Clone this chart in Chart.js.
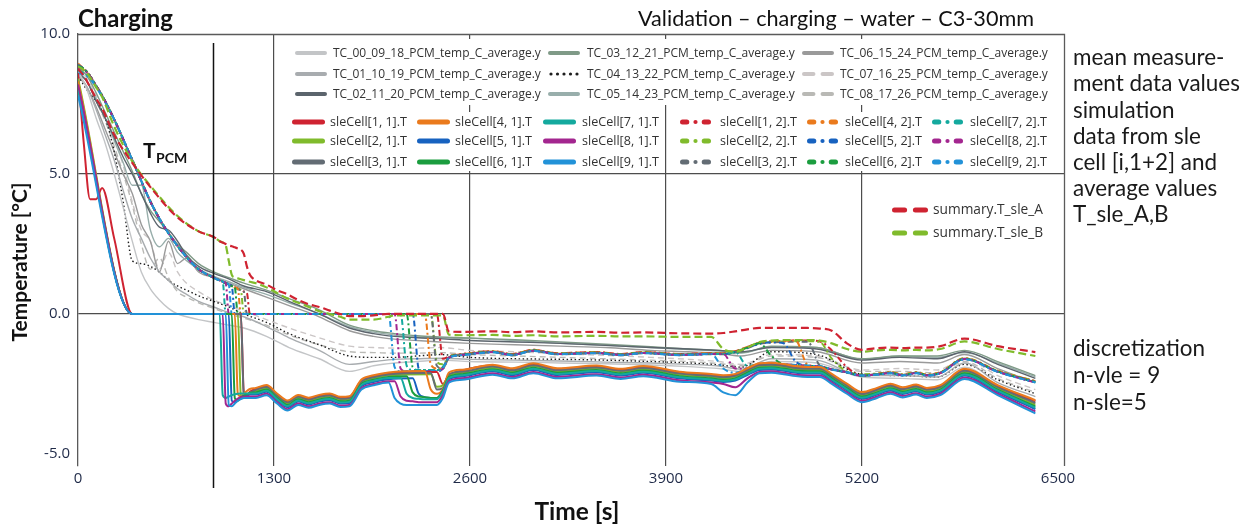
<!DOCTYPE html>
<html>
<head>
<meta charset="utf-8">
<script src="https://cdn.jsdelivr.net/npm/chart.js@4.4.1/dist/chart.umd.min.js"></script>
<style>
html,body{margin:0;padding:0;background:#ffffff;overflow:hidden;}
#wrap{position:relative;width:1252px;height:526px;}
canvas{display:block;}
</style>
</head>
<body>
<div id="wrap"><canvas id="chart" width="1252" height="526"></canvas></div>
<script>
const _ = null;

// ---- axes ----
const X_TICKS = [0, 1300, 2600, 3900, 5200, 6500];
const Y_TICKS = [-5, 0, 5, 10];
const X_GRID = [1300, 2600, 3900, 5200];
const Y_GRID = [0, 5];
const T_PCM_TIME = 895;

// ---- labels ----
const TC_LABELS = [
  'TC_00_09_18_PCM_temp_C_average.y', 'TC_01_10_19_PCM_temp_C_average.y', 'TC_02_11_20_PCM_temp_C_average.y',
  'TC_03_12_21_PCM_temp_C_average.y', 'TC_04_13_22_PCM_temp_C_average.y', 'TC_05_14_23_PCM_temp_C_average.y',
  'TC_06_15_24_PCM_temp_C_average.y', 'TC_07_16_25_PCM_temp_C_average.y', 'TC_08_17_26_PCM_temp_C_average.y'];
const CELL1_LABELS = ['sleCell[1, 1].T','sleCell[2, 1].T','sleCell[3, 1].T','sleCell[4, 1].T','sleCell[5, 1].T','sleCell[6, 1].T','sleCell[7, 1].T','sleCell[8, 1].T','sleCell[9, 1].T'];
const CELL2_LABELS = ['sleCell[1, 2].T','sleCell[2, 2].T','sleCell[3, 2].T','sleCell[4, 2].T','sleCell[5, 2].T','sleCell[6, 2].T','sleCell[7, 2].T','sleCell[8, 2].T','sleCell[9, 2].T'];
const SUM_LABELS = ['summary.T_sle_A', 'summary.T_sle_B'];

// ---- simulation time grid [s] ----
const CELL_T = [0,40,80,120,160,240,360,500,650,800,
  900,940,960,980,1000,1020,1040,1060,1080,1100,
  1120,1140,1180,1250,1320,1390,1460,1530,1600,1670,
  1740,1800,1880,1960,2060,2100,2140,2180,2220,2260,
  2300,2340,2380,2420,2460,2550,2750,2880,3020,3180,
  3440,3600,3750,3990,4200,4280,4360,4440,4520,4600,
  4680,4760,4840,4920,5000,5100,5200,5300,5390,5470,
  5560,5630,5720,5880,6100,6350];

// ---- summary.T_sle_A / B [°C] ----
const SUM_A = [8.75,8.5,8.1,7.7,7.35,6.4,5.4,4.4,3.5,2.95,
  2.75,2.6,2.55,2.5,2.45,2.42,2.38,2.34,2.3,2.15,
  1.7,1.4,1.2,1.05,0.85,0.7,0.5,0.35,0.25,0.12,
  0.0,-0.08,-0.08,-0.05,0.0,0.0,0.0,0.0,0.0,0.0,
  0.0,0.0,0.0,0.0,-0.62,-0.64,-0.62,-0.65,-0.62,-0.66,
  -0.64,-0.67,-0.66,-0.69,-0.7,-0.68,-0.62,-0.55,-0.5,-0.5,
  -0.5,-0.5,-0.5,-0.52,-0.6,-1.05,-1.28,-1.22,-1.2,-1.22,
  -1.2,-1.2,-1.15,-0.88,-1.15,-1.36];
const SUM_B = [8.85,8.7,8.45,8.1,7.75,6.7,5.45,4.45,3.55,2.95,
  2.75,2.6,2.55,2.45,1.9,1.4,1.3,1.27,1.24,1.21,
  1.18,1.15,1.1,0.95,0.75,0.55,0.4,0.25,0.1,0.0,
  -0.1,-0.2,-0.2,-0.2,-0.1,-0.05,-0.05,-0.05,-0.05,-0.05,
  -0.05,-0.05,-0.05,-0.05,-0.74,-0.76,-0.75,-0.78,-0.76,-0.8,
  -0.78,-0.8,-0.8,-0.82,-0.82,-1.25,-1.35,-1.2,-1.0,-0.95,
  -0.93,-0.93,-0.93,-0.95,-1.05,-1.25,-1.35,-1.3,-1.28,-1.3,
  -1.28,-1.3,-1.25,-0.98,-1.25,-1.5];

// ---- sleCell[i,1].T [°C] ----
const S1 = [8.6,6.0,4.1,4.1,4.5,2.7,0,_,_,_,
  _,_,_,_,_,_,_,_,0,-2.8,
  -2.9,-2.78,-2.67,-2.57,-2.87,-3.12,-2.92,-3.02,-2.92,-2.87,
  -2.99,-2.97,-2.37,-2.22,-2.12,_,_,_,_,_,
  _,_,-2.07,-2.5,-2.2,-2.02,-1.84,-1.97,-1.79,-1.97,
  -1.87,-1.99,-1.89,-2.09,-2.17,-2.22,-2.17,-1.97,-1.79,-1.77,
  -1.82,-1.89,-1.92,-1.92,-2.17,-2.52,-2.82,-2.67,-2.52,-2.65,
  -2.55,-2.67,-2.57,-1.99,-2.57,-3.12];
const S2 = [8.4,_,_,_,_,_,0,_,_,_,
  _,_,_,_,_,_,_,0,-2.9,-3.0,
  -2.9,-2.82,-2.75,-2.65,-2.95,-3.2,-3.0,-3.1,-3.0,-2.95,
  -3.07,-3.05,-2.45,-2.3,-2.2,_,_,_,_,_,
  _,-2.15,-2.6,-2.55,-2.2,-2.1,-1.92,-2.05,-1.87,-2.05,
  -1.95,-2.07,-1.97,-2.17,-2.25,-2.3,-2.25,-2.05,-1.87,-1.85,
  -1.9,-1.97,-2.0,-2.0,-2.25,-2.6,-2.9,-2.75,-2.6,-2.73,
  -2.63,-2.75,-2.65,-2.07,-2.65,-3.24];
const S3 = [8.2,_,_,_,_,_,0,_,_,_,
  _,_,_,_,_,_,_,_,0,-2.9,
  -2.95,-2.82,-2.71,-2.61,-2.91,-3.16,-2.96,-3.06,-2.96,-2.91,
  -3.03,-3.01,-2.41,-2.26,-2.16,_,_,_,_,_,
  _,-2.11,-2.7,-2.65,-2.16,-2.06,-1.88,-2.01,-1.83,-2.01,
  -1.91,-2.03,-1.93,-2.13,-2.21,-2.26,-2.21,-2.01,-1.83,-1.81,
  -1.86,-1.93,-1.96,-1.96,-2.21,-2.56,-2.86,-2.71,-2.56,-2.69,
  -2.59,-2.71,-2.61,-2.03,-2.61,-3.18];
const S4 = [8.3,_,_,_,_,_,0,_,_,_,
  _,_,_,_,_,_,0,-2.85,-2.95,-2.85,
  -2.75,-2.68,-2.64,-2.54,-2.84,-3.09,-2.89,-2.99,-2.89,-2.84,
  -2.96,-2.94,-2.34,-2.19,-2.09,_,_,_,_,_,
  -2.04,-2.7,-2.85,-2.7,-2.09,-1.99,-1.81,-1.94,-1.76,-1.94,
  -1.84,-1.96,-1.86,-2.06,-2.14,-2.19,-2.14,-1.94,-1.76,-1.74,
  -1.79,-1.86,-1.89,-1.89,-2.14,-2.49,-2.79,-2.64,-2.49,-2.62,
  -2.52,-2.64,-2.54,-1.96,-2.54,-3.08];
const S5 = [8.1,_,_,_,_,_,0,_,_,_,
  _,_,_,_,0,-3.1,-3.15,-3.05,-2.97,-2.92,
  -2.9,-2.88,-2.88,-2.78,-3.08,-3.33,-3.13,-3.23,-3.13,-3.08,
  -3.2,-3.18,-2.58,-2.43,-2.33,_,_,_,-2.3,-2.85,
  -2.97,-3.0,-3.0,-2.75,-2.33,-2.23,-2.05,-2.18,-2.0,-2.18,
  -2.08,-2.2,-2.1,-2.3,-2.38,-2.43,-2.38,-2.18,-2.0,-1.98,
  -2.03,-2.1,-2.13,-2.13,-2.38,-2.73,-3.03,-2.88,-2.73,-2.86,
  -2.76,-2.88,-2.78,-2.2,-2.78,-3.4];
const S6 = [8.1,_,_,_,_,_,0,_,_,_,
  _,_,_,_,_,0,-3.0,-3.1,-3.0,-2.92,
  -2.86,-2.82,-2.8,-2.7,-3.0,-3.25,-3.05,-3.15,-3.05,-3.0,
  -3.12,-3.1,-2.5,-2.35,-2.25,_,_,-2.22,-2.8,-2.95,
  -2.97,-3.0,-3.0,-2.75,-2.25,-2.15,-1.97,-2.1,-1.92,-2.1,
  -2.0,-2.12,-2.02,-2.22,-2.3,-2.35,-2.3,-2.1,-1.92,-1.9,
  -1.95,-2.02,-2.05,-2.05,-2.3,-2.65,-2.95,-2.8,-2.65,-2.78,
  -2.68,-2.8,-2.7,-2.12,-2.7,-3.3];
const S7 = [8.0,_,_,_,_,_,0,_,_,_,
  _,0,-2.9,-3.0,-2.95,-2.9,-2.87,-2.85,-2.84,-2.84,
  -2.84,-2.84,-2.84,-2.74,-3.04,-3.29,-3.09,-3.19,-3.09,-3.04,
  -3.16,-3.14,-2.54,-2.39,-2.29,_,-2.29,-2.85,-3.0,-3.03,
  -3.05,-3.05,-3.05,-2.8,-2.29,-2.19,-2.01,-2.14,-1.96,-2.14,
  -2.04,-2.16,-2.06,-2.26,-2.34,-2.39,-2.34,-2.14,-1.96,-1.94,
  -1.99,-2.06,-2.09,-2.09,-2.34,-2.69,-2.99,-2.84,-2.69,-2.82,
  -2.72,-2.84,-2.74,-2.16,-2.74,-3.35];
const S8 = [8.2,_,_,_,_,_,0,_,_,_,
  _,_,0,-3.2,-3.3,-3.2,-3.1,-3.02,-2.98,-2.96,
  -2.95,-2.95,-2.95,-2.85,-3.15,-3.4,-3.2,-3.3,-3.2,-3.15,
  -3.27,-3.25,-2.65,-2.5,-2.4,-2.4,-2.95,-3.1,-3.12,-3.15,
  -3.15,-3.15,-3.15,-2.9,-2.4,-2.3,-2.12,-2.25,-2.07,-2.25,
  -2.15,-2.27,-2.17,-2.37,-2.45,-2.5,-2.62,-2.3,-2.07,-2.05,
  -2.1,-2.17,-2.2,-2.2,-2.45,-2.8,-3.1,-2.95,-2.8,-2.93,
  -2.83,-2.95,-2.85,-2.27,-2.85,-3.48];
const S9 = [7.8,_,_,_,_,_,0,_,_,_,
  _,_,_,0,-3.25,-3.3,-3.2,-3.1,-3.04,-3.0,
  -3.0,-3.0,-3.0,-2.9,-3.2,-3.45,-3.25,-3.35,-3.25,-3.2,
  -3.32,-3.3,-2.7,-2.55,-2.45,-3.0,-3.2,-3.25,-3.25,-3.25,
  -3.25,-3.25,-3.25,-3.0,-2.45,-2.35,-2.17,-2.3,-2.12,-2.3,
  -2.2,-2.32,-2.22,-2.42,-2.5,-2.8,-2.9,-2.45,-2.12,-2.1,
  -2.15,-2.22,-2.25,-2.25,-2.5,-2.85,-3.15,-3.0,-2.85,-2.98,
  -2.88,-3.0,-2.9,-2.32,-2.9,-3.55];

// ---- sleCell[i,2].T [°C] ----
const D1 = [8.9,8.75,8.5,8.15,7.8,6.95,5.5,3.8,2.5,1.6,
  1.3,1.2,1.15,1.1,1.05,1.0,0.95,0.9,0.85,0.8,
  0.75,0,_,_,_,_,_,_,_,_,
  _,_,_,_,_,_,_,_,_,_,
  _,_,0,-1.6,-1.52,-1.43,-1.33,-1.43,-1.28,-1.4,
  -1.36,-1.43,-1.36,-1.43,-1.4,-1.4,-1.33,-1.18,-1.03,-0.98,
  -0.96,-0.95,-0.95,-0.98,-1.3,-1.9,-2.2,-2.15,-2.1,-2.18,
  -2.1,-2.18,-2.1,-1.6,-2.05,-2.4];
const D2 = [8.8,8.75,8.5,8.15,7.8,6.95,5.5,3.8,2.5,1.6,
  1.3,1.2,1.15,1.1,1.05,1.0,0.95,0.9,0.85,0,
  _,_,_,_,_,_,_,_,_,_,
  _,_,_,_,_,_,_,_,_,_,
  _,0,-1.7,-1.8,-1.55,-1.45,-1.35,-1.45,-1.3,-1.42,
  -1.38,-1.45,-1.38,-1.45,-1.42,-1.42,-1.35,-1.2,-1.05,-1.0,
  -0.98,-0.97,-0.97,-1.0,-1.6,-2.05,-2.15,-2.13,-2.08,-2.16,
  -2.08,-2.16,-2.08,-1.58,-2.03,-2.4];
const D3 = [8.85,8.75,8.5,8.15,7.8,6.95,5.5,3.8,2.5,1.6,
  1.3,1.2,1.15,1.1,1.05,1.0,0.95,0.9,0.85,0.8,
  0,_,_,_,_,_,_,_,_,_,
  _,_,_,_,_,_,_,_,_,_,
  _,0,-1.85,-1.95,-1.57,-1.47,-1.37,-1.47,-1.32,-1.44,
  -1.4,-1.47,-1.4,-1.47,-1.44,-1.44,-1.37,-1.22,-1.07,-1.02,
  -1.0,-0.99,-0.99,-1.85,-1.98,-2.08,-2.2,-2.15,-2.1,-2.18,
  -2.1,-2.18,-2.1,-1.6,-2.05,-2.44];
const D4 = [8.95,8.75,8.5,8.15,7.8,6.95,5.5,3.8,2.5,1.6,
  1.3,1.2,1.15,1.1,1.05,1.0,0.95,0.9,0,_,
  _,_,_,_,_,_,_,_,_,_,
  _,_,_,_,_,_,_,_,_,_,
  0,-1.8,-1.95,-1.95,-1.53,-1.43,-1.33,-1.43,-1.28,-1.4,
  -1.36,-1.43,-1.36,-1.43,-1.4,-1.4,-1.33,-1.18,-1.03,-0.98,
  -0.96,-0.95,-1.82,-1.87,-1.98,-2.08,-2.2,-2.13,-2.08,-2.16,
  -2.08,-2.16,-2.08,-1.58,-2.03,-2.41];
const D5 = [8.9,8.75,8.5,8.15,7.8,6.95,5.5,3.8,2.5,1.6,
  1.3,1.2,1.15,1.1,1.05,1.0,0,_,_,_,
  _,_,_,_,_,_,_,_,_,_,
  _,_,_,_,_,_,_,_,0,-1.95,
  -2.05,-2.05,-2.05,-1.95,-1.56,-1.46,-1.36,-1.46,-1.31,-1.43,
  -1.39,-1.46,-1.39,-1.46,-1.43,-1.43,-1.36,-1.21,-1.06,-1.01,
  -1.05,-1.7,-1.85,-1.88,-1.99,-2.09,-2.21,-2.16,-2.11,-2.19,
  -2.11,-2.19,-2.11,-1.61,-2.06,-2.44];
const D6 = [8.85,8.75,8.5,8.15,7.8,6.95,5.5,3.8,2.5,1.6,
  1.3,1.2,1.15,1.1,1.05,1.0,0.95,0,_,_,
  _,_,_,_,_,_,_,_,_,_,
  _,_,_,_,_,_,_,0,-1.9,-2.0,
  -2.0,-2.0,-2.0,-1.9,-1.55,-1.45,-1.35,-1.45,-1.3,-1.42,
  -1.38,-1.45,-1.38,-1.45,-1.42,-1.42,-1.35,-1.2,-1.05,-1.5,
  -1.8,-1.82,-1.85,-1.87,-1.98,-2.08,-2.2,-2.15,-2.1,-2.18,
  -2.1,-2.18,-2.1,-1.6,-2.05,-2.43];
const D7 = [8.7,8.6,8.45,8.15,7.8,6.95,5.5,3.8,2.5,1.6,
  1.3,1.2,1.15,0,_,_,_,_,_,_,
  _,_,_,_,_,_,_,_,_,_,
  _,_,_,_,_,_,0,-1.85,-2.0,-2.0,
  -2.0,-2.0,-2.0,-1.9,-1.56,-1.46,-1.36,-1.46,-1.31,-1.43,
  -1.39,-1.46,-1.39,-1.46,-1.43,-1.43,-1.36,-1.85,-1.8,-1.78,
  -1.8,-1.82,-1.85,-1.87,-1.98,-2.08,-2.2,-2.16,-2.11,-2.19,
  -2.11,-2.19,-2.11,-1.61,-2.06,-2.44];
const D8 = [8.8,8.7,8.5,8.15,7.8,6.95,5.5,3.8,2.5,1.6,
  1.3,1.2,1.15,1.1,0,_,_,_,_,_,
  _,_,_,_,_,_,_,_,_,_,
  _,_,_,_,_,0,-1.95,-2.05,-2.05,-2.05,
  -2.05,-2.05,-2.05,-1.95,-1.56,-1.46,-1.36,-1.46,-1.31,-1.43,
  -1.39,-1.46,-1.39,-1.46,-1.43,-1.43,-1.95,-1.95,-1.8,-1.78,
  -1.8,-1.82,-1.85,-1.87,-1.98,-2.08,-2.2,-2.16,-2.11,-2.19,
  -2.11,-2.19,-2.11,-1.61,-2.06,-2.45];
const D9 = [8.6,8.55,8.4,8.1,7.75,6.95,5.5,3.8,2.5,1.6,
  1.3,1.2,1.15,1.1,1.05,0,_,_,_,_,
  _,_,_,_,_,_,_,_,_,_,
  _,_,_,_,0,-1.9,-2.05,-2.05,-2.05,-2.05,
  -2.05,-2.05,-2.05,-1.95,-1.57,-1.47,-1.37,-1.47,-1.32,-1.44,
  -1.4,-1.47,-1.4,-1.47,-1.43,-1.95,-2.1,-1.95,-1.8,-1.78,
  -1.8,-1.82,-1.85,-1.87,-1.98,-2.08,-2.2,-2.17,-2.12,-2.2,
  -2.12,-2.2,-2.12,-1.62,-2.07,-2.45];

// ---- measurement time grid [s] and TC averages [°C] ----
const TC_T = [0,60,120,180,240,300,360,420,480,540,
  600,660,720,800,900,1000,1100,1250,1400,1600,
  1800,1960,2100,2250,2400,2600,2900,3200,3500,3800,
  4050,4250,4400,4600,4900,5200,5450,5700,5880,6100,
  6350];
const TC00 = [8.7,8.0,7.0,6.1,5.0,3.8,2.6,1.5,0.9,0.5,
  0.2,0.0,-0.1,-0.2,-0.3,-0.4,-0.5,-0.8,-1.2,-1.6,
  -2.05,-1.85,-1.75,-1.7,-1.65,-1.7,-1.72,-1.75,-1.78,-1.82,
  -1.88,-1.95,-2.05,-1.7,-1.75,-2.25,-2.3,-2.35,-1.9,-2.55,
  -3.1];
const TC01 = [8.6,8.1,7.3,6.4,5.5,4.4,3.4,2.7,2.0,1.5,
  1.2,0.9,0.7,0.45,0.25,0.05,-0.1,-0.45,-0.85,-1.3,
  -1.8,-1.7,-1.62,-1.6,-1.58,-1.62,-1.65,-1.68,-1.72,-1.75,
  -1.8,-1.86,-1.97,-1.6,-1.65,-2.2,-2.2,-2.25,-1.75,-2.45,
  -2.95];
const TC02 = [8.6,8.3,7.6,7.0,6.3,5.6,5.0,4.3,3.6,3.1,
  3.0,2.6,2.1,1.7,1.45,1.25,1.0,0.8,0.45,0.0,
  -0.5,-0.7,-0.8,-0.85,-0.88,-0.95,-1.0,-1.05,-1.12,-1.2,
  -1.25,-1.3,-1.35,-1.2,-1.25,-1.65,-1.55,-1.6,-1.35,-1.8,
  -2.3];
const TC03 = [8.8,8.5,7.9,7.2,6.5,5.8,5.1,4.3,3.7,3.3,
  2.9,2.5,2.2,1.8,1.5,1.3,1.1,0.85,0.55,0.15,
  -0.4,-0.6,-0.7,-0.78,-0.82,-0.86,-0.92,-1.0,-1.08,-1.17,
  -1.25,-1.3,-1.38,-1.15,-1.2,-1.6,-1.5,-1.5,-1.3,-1.7,
  -2.2];
const TC04 = [8.5,8.0,7.6,7.0,5.8,4.0,1.9,1.8,1.7,1.5,
  1.2,1.0,0.85,0.65,0.45,0.25,0.0,-0.3,-0.7,-1.1,
  -1.5,-1.55,-1.55,-1.5,-1.45,-1.55,-1.6,-1.62,-1.65,-1.7,
  -1.75,-1.82,-1.9,-1.35,-1.45,-2.15,-2.2,-2.25,-1.8,-2.35,
  -2.85];
const TC05 = [8.7,8.3,7.7,7.0,6.2,5.4,4.6,4.6,3.0,2.4,
  2.7,2.2,1.9,1.6,1.35,1.15,0.95,0.7,0.4,0.0,
  -0.45,-0.65,-0.75,-0.82,-0.85,-0.87,-0.95,-1.05,-1.12,-1.2,
  -1.27,-1.32,-1.4,-1.17,-1.2,-1.62,-1.5,-1.55,-1.38,-1.75,
  -2.25];
const TC06 = [8.5,8.1,7.4,6.6,5.8,5.0,4.3,3.2,2.6,1.5,
  2.6,1.8,2.0,1.5,1.3,1.1,0.9,0.6,0.3,-0.1,
  -0.6,-0.8,-0.9,-0.95,-1.0,-1.05,-1.1,-1.15,-1.2,-1.3,
  -1.35,-1.4,-1.5,-1.3,-1.35,-1.75,-1.7,-1.75,-1.45,-1.95,
  -2.45];
const TC07 = [8.8,8.4,7.8,7.1,6.3,5.3,4.0,3.0,2.6,1.6,
  2.2,1.5,1.1,0.8,0.5,0.3,0.1,-0.2,-0.5,-0.85,
  -1.15,-1.2,-1.22,-1.22,-1.2,-1.3,-1.35,-1.42,-1.48,-1.55,
  -1.62,-1.7,-1.8,-1.45,-1.5,-2.0,-1.95,-2.0,-1.6,-2.2,
  -2.7];
const TC08 = [8.7,8.3,7.6,6.9,6.0,5.0,3.9,2.5,1.6,2.0,
  1.3,0.8,0.6,0.4,0.2,0.0,-0.15,-0.4,-0.75,-1.1,
  -1.35,-1.38,-1.4,-1.4,-1.38,-1.45,-1.5,-1.55,-1.6,-1.65,
  -1.7,-1.77,-1.85,-1.5,-1.55,-2.05,-2.05,-2.1,-1.7,-2.3,
  -2.8];

// ================= styling =================
const FONT = "'Open Sans', 'Noto Sans', 'DejaVu Sans', sans-serif";
const FONT2 = "Lato, 'Open Sans', sans-serif";
const CELL_COLORS = ['#cf2331','#80bb2c','#636c74','#ea7a1d','#1762c0','#1b9d3f','#14a99e','#a3268f','#2292d8'];
const SUM_COLORS = ['#cf2331','#80bb2c'];
const TC_STYLES = [
  {c:'#c3c5c7', d:[],        k:'solid'},
  {c:'#a8acaf', d:[],        k:'solid'},
  {c:'#5b646c', d:[],        k:'solid'},
  {c:'#7f9a87', d:[],        k:'solid'},
  {c:'#1e1e1e', d:[1.5,2.5], k:'dots'},
  {c:'#98aeab', d:[],        k:'solid'},
  {c:'#9a9a9a', d:[],        k:'solid'},
  {c:'#cbc6c6', d:[6,4],     k:'dash2'},
  {c:'#b9b9b5', d:[6,4],     k:'dash2'}
];
const TC_SERIES = [TC00,TC01,TC02,TC03,TC04,TC05,TC06,TC07,TC08];
const S_SERIES = [S1,S2,S3,S4,S5,S6,S7,S8,S9];
const D_SERIES = [D1,D2,D3,D4,D5,D6,D7,D8,D9];

const pts = (T, V) => T.map((t, i) => ({x: t, y: V[i]}));

// dataset index 0 is drawn on top
const datasets = [];
SUM_LABELS.forEach((lab, i) => datasets.push({
  label: lab, data: pts(CELL_T, [SUM_A, SUM_B][i]), borderColor: SUM_COLORS[i],
  borderWidth: 2.2, borderDash: [8, 4]
}));
for (let i = 8; i >= 0; i--) datasets.push({
  label: CELL1_LABELS[i], data: pts(CELL_T, S_SERIES[i]), borderColor: CELL_COLORS[i], borderWidth: 2
});
for (let i = 8; i >= 0; i--) datasets.push({
  label: CELL2_LABELS[i], data: pts(CELL_T, D_SERIES[i]), borderColor: CELL_COLORS[i], borderWidth: 2,
  borderDash: [6, 3, 2, 3]
});
TC_SERIES.forEach((v, i) => datasets.push({
  label: TC_LABELS[i], data: pts(TC_T, v), borderColor: TC_STYLES[i].c,
  borderWidth: 1.4, borderDash: TC_STYLES[i].d
}));

function fitFont(ctx, text, weight, target, fam) {
  const f = fam || FONT;
  ctx.font = `${weight} 100px ${f}`;
  const w = ctx.measureText(text).width;
  return `${weight} ${(100 * target / w).toFixed(2)}px ${f}`;
}

function drawSample(ctx, kind, x, len, y, color, lw) {
  ctx.save();
  ctx.strokeStyle = color; ctx.fillStyle = color; ctx.lineWidth = lw; ctx.lineCap = 'round';
  ctx.setLineDash([]);
  const r = lw / 2;
  const seg = (a, b) => { ctx.beginPath(); ctx.moveTo(a + r, y); ctx.lineTo(b - r, y); ctx.stroke(); };
  if (kind === 'solid') seg(x, x + len);
  else if (kind === 'dash2') { seg(x, x + len * 0.42); seg(x + len * 0.58, x + len); }
  else if (kind === 'dashdot') {
    seg(x, x + len * 0.3); seg(x + len * 0.7, x + len);
    ctx.beginPath(); ctx.arc(x + len / 2, y, lw * 0.42, 0, Math.PI * 2); ctx.fill();
  } else if (kind === 'dots') {
    for (let k = 0; k < 5; k++) { ctx.beginPath(); ctx.arc(x + 3 + k * (len - 6) / 4, y, 1.6, 0, Math.PI * 2); ctx.fill(); }
  }
  ctx.restore();
}

const deco = {
  id: 'deco',
  afterDraw(chart) {
    const ctx = chart.ctx, a = chart.chartArea, xs = chart.scales.x;
    ctx.save();
    // frame (top + right)
    ctx.strokeStyle = '#5a5a5a'; ctx.lineWidth = 1.3; ctx.setLineDash([]);
    ctx.beginPath(); ctx.moveTo(a.left, a.top + 0.5); ctx.lineTo(a.right + 0.5, a.top + 0.5); ctx.lineTo(a.right + 0.5, a.bottom); ctx.stroke();
    // T_PCM marker
    const xp = Math.round(xs.getPixelForValue(T_PCM_TIME)) + 0.5;
    ctx.strokeStyle = '#111'; ctx.lineWidth = 1.5;
    ctx.beginPath(); ctx.moveTo(xp, 43); ctx.lineTo(xp, 488); ctx.stroke();

    // legend backgrounds
    ctx.fillStyle = '#ffffff';
    ctx.fillRect(287, 39, 768, 66);
    ctx.fillRect(285, 112, 378, 59);
    ctx.fillRect(674, 112, 381, 59);
    ctx.fillRect(884, 197, 171, 48);

    ctx.fillStyle = '#333333'; ctx.textBaseline = 'middle'; ctx.textAlign = 'left';
    // TC legend
    const tcFont = fitFont(ctx, TC_LABELS[0], 400, 208);
    const tcSX = [295, 548, 802], tcTX = [333, 587, 840], tcY = [53, 74, 94];
    TC_LABELS.forEach((lab, i) => {
      const c = Math.floor(i / 3), r = i % 3;
      drawSample(ctx, TC_STYLES[i].k, tcSX[c], 32, tcY[r], TC_STYLES[i].c, 4);
      ctx.font = tcFont; ctx.fillStyle = '#333'; ctx.fillText(lab, tcTX[c], tcY[r] + 0.5);
    });
    // sleCell legends
    const cFont = fitFont(ctx, CELL1_LABELS[0], 400, 77);
    const rowsY = [122, 141, 162];
    const s1X = [292, 417, 543], t1X = [330, 455, 582];
    const s2X = [680, 807, 932], t2X = [720, 845, 970];
    for (let i = 0; i < 9; i++) {
      const c = Math.floor(i / 3), r = i % 3;
      drawSample(ctx, 'solid', s1X[c], 33, rowsY[r], CELL_COLORS[i], 5);
      drawSample(ctx, 'dashdot', s2X[c], 31, rowsY[r], CELL_COLORS[i], 5);
      ctx.font = cFont; ctx.fillStyle = '#333';
      ctx.fillText(CELL1_LABELS[i], t1X[c], rowsY[r] + 0.5);
      ctx.fillText(CELL2_LABELS[i], t2X[c], rowsY[r] + 0.5);
    }
    // summary legend
    const sFont = fitFont(ctx, SUM_LABELS[0], 400, 110);
    [210, 233].forEach((y, i) => {
      drawSample(ctx, 'dash2', 892, 36, y, SUM_COLORS[i], 5);
      ctx.font = sFont; ctx.fillStyle = '#333'; ctx.fillText(SUM_LABELS[i], 933, y + 0.5);
    });

    // titles
    ctx.fillStyle = '#111';
    ctx.textBaseline = 'alphabetic';
    ctx.font = fitFont(ctx, 'Charging', 700, 95, FONT2); ctx.textAlign = 'left';
    ctx.fillText('Charging', 78, 27);
    const sub = 'Validation – charging – water – C3-30mm';
    ctx.font = fitFont(ctx, sub, 400, 396, FONT2); ctx.textAlign = 'right';
    ctx.fillText(sub, 1034, 26);

    // T_PCM label
    ctx.textAlign = 'left';
    ctx.font = `700 21px ${FONT2}`; ctx.fillText('T', 143, 158);
    ctx.font = `700 14px ${FONT2}`; ctx.fillText('PCM', 156, 163);

    // axis titles
    ctx.textAlign = 'center'; ctx.textBaseline = 'middle';
    ctx.font = fitFont(ctx, 'Time [s]', 700, 85, FONT2);
    ctx.fillText('Time [s]', 577, 512);
    ctx.save();
    ctx.translate(20, 262); ctx.rotate(-Math.PI / 2);
    ctx.font = fitFont(ctx, 'Temperature [°C]', 700, 159, FONT2);
    ctx.fillText('Temperature [°C]', 0, 0);
    ctx.restore();

    // side notes
    ctx.textAlign = 'left'; ctx.textBaseline = 'middle'; ctx.fillStyle = '#1a1a1a';
    ctx.font = fitFont(ctx, 'ment data values', 400, 167, FONT2);
    const notes1 = ['mean measure-', 'ment data values', 'simulation', 'data from sle', 'cell [i,1+2] and', 'average values', 'T_sle_A,B'];
    notes1.forEach((t, i) => ctx.fillText(t, 1073, 58 + i * 26.2));
    const notes2 = ['discretization', 'n-vle = 9', 'n-sle=5'];
    notes2.forEach((t, i) => ctx.fillText(t, 1073, 349 + i * 27));
    ctx.restore();
  }
};

new Chart(document.getElementById('chart').getContext('2d'), {
  type: 'line',
  data: { datasets },
  options: {
    responsive: false, animation: false, devicePixelRatio: 1,
    layout: { padding: { left: 0, right: 188, top: 34, bottom: 0 } },
    plugins: { legend: { display: false }, tooltip: { enabled: false }, title: { display: false } },
    elements: { point: { radius: 0 }, line: { cubicInterpolationMode: 'monotone', borderCapStyle: 'butt' } },
    spanGaps: true,
    scales: {
      x: {
        type: 'linear', min: 0, max: 6540,
        afterBuildTicks: s => { s.ticks = X_TICKS.map(v => ({ value: v })); },
        afterFit: s => { s.height = 60; },
        ticks: { font: { family: FONT, size: 15 }, color: '#1f2a48', padding: 4, maxRotation: 0, autoSkip: false, callback: v => String(v) },
        grid: { drawTicks: false, lineWidth: 1.2, color: c => (c.tick && X_GRID.includes(c.tick.value)) ? '#4d4d4d' : 'rgba(0,0,0,0)' },
        border: { display: false }
      },
      y: {
        min: -5.43, max: 10,
        afterBuildTicks: s => { s.ticks = Y_TICKS.map(v => ({ value: v })); },
        afterFit: s => { s.width = 78; },
        ticks: { font: { family: FONT, size: 15 }, color: '#1f2a48', padding: 8, callback: v => Number(v).toFixed(1) },
        grid: { drawTicks: false, lineWidth: 1.2, color: c => (c.tick && Y_GRID.includes(c.tick.value)) ? '#4d4d4d' : 'rgba(0,0,0,0)' },
        border: { display: true, color: '#5a5a5a', width: 1.3 }
      }
    }
  },
  plugins: [deco]
});
</script>
</body>
</html>
